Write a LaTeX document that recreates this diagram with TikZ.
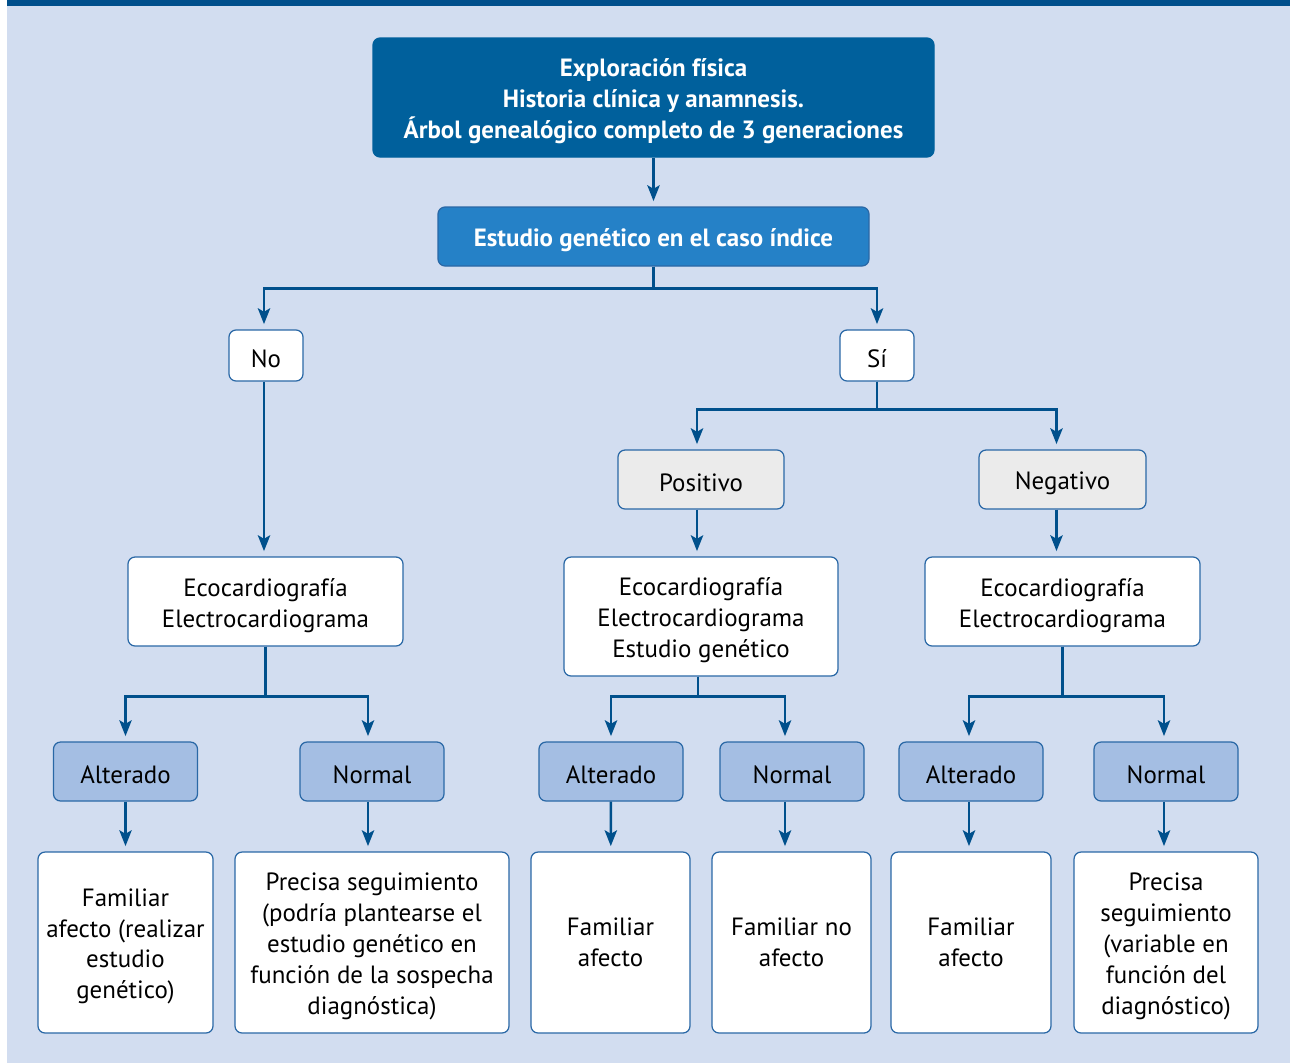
\documentclass[tikz,border=0pt]{standalone}
\usepackage{fontspec}
\setmainfont{PT Sans}
\usetikzlibrary{arrows.meta}

\definecolor{bgblue}{HTML}{D2DDF0}
\definecolor{bandblue}{HTML}{004F8C}
\definecolor{darkbox}{HTML}{00609C}
\definecolor{midbox}{HTML}{2581C7}
\definecolor{edgeblue}{HTML}{2A68A6}
\definecolor{arrowblue}{HTML}{00508C}
\definecolor{greybox}{HTML}{EBEBEB}
\definecolor{lightbox}{HTML}{A4BEE3}

% strut that pushes the first line of a box down a little
\newcommand{\topstrut}{\rule{0pt}{14.5pt}}

\tikzset{
  box/.style={draw=edgeblue, line width=0.7pt, rounded corners=4pt, align=center,
    inner sep=0pt, font=\fontsize{14.2}{17.6}\selectfont,
    execute at begin node={\rule{0pt}{14pt}}},
  whitebox/.style={box, fill=white},
  greyb/.style={box, fill=greybox},
  resultbox/.style={box, fill=lightbox},
  headbox/.style={box, fill=darkbox, draw=darkbox, text=white,
    font=\fontsize{14.2}{17.6}\selectfont\bfseries},
  studybox/.style={box, fill=midbox, draw=edgeblue, text=white,
    font=\fontsize{14.2}{17.6}\selectfont\bfseries},
  arr/.style={draw=arrowblue, line width=1.5pt,
    -{Stealth[length=9pt,width=7pt,inset=2pt]}, shorten >=3pt}
}

\begin{document}
\begin{tikzpicture}[x=0.02cm, y=-0.02cm]

    % Background and top band
    \useasboundingbox (0,0) rectangle (1290,1063);
    \fill[white] (0,0) rectangle (1290,1063);
    \fill[bgblue] (7,0) rectangle (1290,1063);
    \fill[bandblue] (7,0) rectangle (1290,6);

    % Top boxes
    \node[headbox, minimum width=561*0.02cm, minimum height=119*0.02cm] (explor) at (653.5,97.5)
      {\topstrut Exploración física\\Historia clínica y anamnesis.\\Árbol genealógico completo de 3 generaciones};
    \node[studybox, minimum width=431*0.02cm, minimum height=59*0.02cm] (caso) at (653.5,236.5)
      {Estudio genético en el caso índice};

    % No / Si
    \node[whitebox, minimum width=74*0.02cm, minimum height=51*0.02cm] (no) at (266,355.5) {No};
    \node[whitebox, minimum width=74*0.02cm, minimum height=51*0.02cm] (si) at (877,355.5) {Sí};

    % Positivo / Negativo
    \node[greyb, minimum width=166*0.02cm, minimum height=59*0.02cm] (pos) at (701,479.5) {Positivo};
    \node[greyb, minimum width=167*0.02cm, minimum height=59*0.02cm] (neg) at (1062.5,479.5) {Negativo};

    % Tests
    \node[whitebox, minimum width=275*0.02cm, minimum height=89*0.02cm] (ecoL) at (265.5,601.5)
      {\topstrut Ecocardiografía\\Electrocardiograma};
    \node[whitebox, minimum width=274*0.02cm, minimum height=119*0.02cm] (ecoM) at (701,616.5)
      {\topstrut Ecocardiografía\\Electrocardiograma\\Estudio genético};
    \node[whitebox, minimum width=275*0.02cm, minimum height=89*0.02cm] (ecoR) at (1062.5,601.5)
      {\topstrut Ecocardiografía\\Electrocardiograma};

    % Results
    \node[resultbox, minimum width=144*0.02cm, minimum height=59*0.02cm] (altL) at (125.5,771.5) {Alterado};
    \node[resultbox, minimum width=144*0.02cm, minimum height=59*0.02cm] (norL) at (372,771.5) {Normal};
    \node[resultbox, minimum width=144*0.02cm, minimum height=59*0.02cm] (altM) at (611,771.5) {Alterado};
    \node[resultbox, minimum width=144*0.02cm, minimum height=59*0.02cm] (norM) at (792,771.5) {Normal};
    \node[resultbox, minimum width=144*0.02cm, minimum height=59*0.02cm] (altR) at (971,771.5) {Alterado};
    \node[resultbox, minimum width=144*0.02cm, minimum height=59*0.02cm] (norR) at (1166,771.5) {Normal};

    % Outcomes
    \node[whitebox, minimum width=175*0.02cm, minimum height=181*0.02cm] (outA) at (125.5,942.5)
      {\topstrut Familiar\\afecto (realizar\\estudio\\genético)};
    \node[whitebox, minimum width=274*0.02cm, minimum height=181*0.02cm] (outB) at (372,942.5)
      {\topstrut Precisa seguimiento\\(podría plantearse el\\estudio genético en\\función de la sospecha\\diagnóstica)};
    \node[whitebox, minimum width=159*0.02cm, minimum height=181*0.02cm] (outC) at (610.5,942.5)
      {Familiar\\afecto};
    \node[whitebox, minimum width=159*0.02cm, minimum height=181*0.02cm] (outD) at (791.5,942.5)
      {Familiar no\\afecto};
    \node[whitebox, minimum width=160*0.02cm, minimum height=181*0.02cm] (outE) at (971,942.5)
      {Familiar\\afecto};
    \node[whitebox, minimum width=184*0.02cm, minimum height=181*0.02cm] (outF) at (1166,942.5)
      {\topstrut Precisa\\seguimiento\\(variable en\\función del\\diagnóstico)};

    % Connectors from the top
    \draw[arr] (explor) -- (caso);
    \draw[arr] (caso.south) -- ++(0,22) -| ([xshift=-2*0.02cm]no.north);
    \draw[arr] (caso.south) -- ++(0,22) -| (si.north);

    % No branch
    \draw[arr] ([xshift=-2*0.02cm]no.south) -- ([xshift=-2*0.02cm]no.south |- ecoL.north);

    % Si branch
    \draw[arr] (si.south) -- ++(0,28) -| ([xshift=-4*0.02cm]pos.north);
    \draw[arr] (si.south) -- ++(0,28) -| ([xshift=-6*0.02cm]neg.north);
    \draw[arr] ([xshift=-4*0.02cm]pos.south) -- ([xshift=-4*0.02cm]pos.south |- ecoM.north);
    \draw[arr] ([xshift=-6*0.02cm]neg.south) -- ([xshift=-6*0.02cm]neg.south |- ecoR.north);

    % Tests to results
    \draw[arr] (ecoL.south) -- ++(0,50) -| (altL.north);
    \draw[arr] (ecoL.south) -- ++(0,50) -| ([xshift=-4*0.02cm]norL.north);
    \draw[arr] ([xshift=-3*0.02cm]ecoM.south) -- ++(0,20) -| (altM.north);
    \draw[arr] ([xshift=-3*0.02cm]ecoM.south) -- ++(0,20) -| ([xshift=-7*0.02cm]norM.north);
    \draw[arr] (ecoR.south) -- ++(0,50) -| ([xshift=-2*0.02cm]altR.north);
    \draw[arr] (ecoR.south) -- ++(0,50) -| ([xshift=-2*0.02cm]norR.north);

    % Results to outcomes
    \draw[arr] (altL) -- (outA);
    \draw[arr] ([xshift=-4*0.02cm]norL.south) -- ([xshift=-4*0.02cm]norL.south |- outB.north);
    \draw[arr] (altM) -- (outC);
    \draw[arr] ([xshift=-7*0.02cm]norM.south) -- ([xshift=-7*0.02cm]norM.south |- outD.north);
    \draw[arr] ([xshift=-2*0.02cm]altR.south) -- ([xshift=-2*0.02cm]altR.south |- outE.north);
    \draw[arr] ([xshift=-2*0.02cm]norR.south) -- ([xshift=-2*0.02cm]norR.south |- outF.north);

\end{tikzpicture}
\end{document}
